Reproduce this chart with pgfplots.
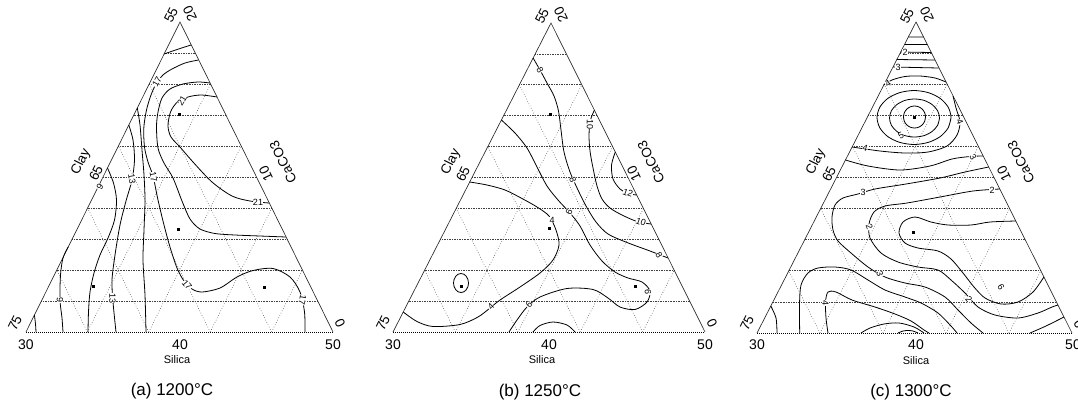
\documentclass[border=0pt]{standalone}
\usepackage{fontspec}
\setmainfont{Liberation Sans}
\usepackage{pgfplots}
\pgfplotsset{compat=1.18}
\tikzset{
 grd/.style={black!70, dotted, line width=0.6pt},
 hgrd/.style={black!75, densely dotted, line width=0.65pt},
 edg/.style={black!85, line width=0.65pt},
 bedg/.style={black, densely dotted, line width=1pt},
 cnt/.style={black, line width=0.8pt, smooth},
 lab/.style={fill=white, inner sep=0.2pt, font=\fontsize{9}{9}\selectfont},
 tk/.style={font=\fontsize{14}{14}\selectfont},
 sd/.style={font=\fontsize{13.5}{14}\selectfont},
 sl/.style={font=\fontsize{11}{11}\selectfont},
 ttl/.style={font=\fontsize{17}{18}\selectfont},
 dot/.style={only marks, mark=square*, mark size=1pt, black},
}
\begin{document}
\begin{tikzpicture}
\begin{axis}[
  scale only axis, width=1078pt, height=403pt,
  xmin=0, xmax=1078, ymin=0, ymax=403, y dir=reverse,
  hide axis, clip=false, unbounded coords=jump,
]
\addplot[draw=none] coordinates {(0,0) (1078,403)};
% ================= PANEL A =================
\addplot[hgrd] coordinates {(41.4,301)(317.7,301) (nan,nan) (56.8,270)(302.4,270) (nan,nan) (72.2,239)(287.1,239) (nan,nan) (87.6,208)(271.8,208) (nan,nan) (103,177)(256.5,177) (nan,nan) (118.4,146)(241.2,146) (nan,nan) (133.8,115)(225.9,115) (nan,nan) (149.2,84)(210.6,84) (nan,nan) (164.6,53)(195.3,53)};
\addplot[grd] coordinates {(87.4,332)(210.6,84) (nan,nan) (148.8,332)(241.2,146) (nan,nan) (210.2,332)(271.8,208) (nan,nan) (271.6,332)(302.4,270) (nan,nan) (87.4,332)(56.8,270) (nan,nan) (148.8,332)(87.6,208) (nan,nan) (210.2,332)(118.4,146) (nan,nan) (271.6,332)(149.2,84)};
\addplot[edg] coordinates {(26,332) (180,22) (333,332)};
\addplot[bedg] coordinates {(26,332) (333,332)};
% contours
\addplot[cnt] coordinates {(164.1,54) (177,49.5) (191,45)};
\addplot[cnt] coordinates {(198.5,60) (185,63) (172,69) (163,75) (156,84) (151,95) (146.5,110) (143.8,128) (144.5,147) (148,162) (153,176) (158,200) (164,225) (170,247) (177,268) (184,281) (192,289) (202,292) (220,288) (237,277) (253,270.5) (273,268.5) (290,277) (300,292) (304.5,312) (305,332)};
\addplot[cnt] coordinates {(210,83) (198,82) (183,84) (170,89) (162,98) (158,112) (156.5,127) (158,148) (164,163) (173,178) (182,201) (190,219) (200,229) (215,233.5) (235,235) (260,236) (286,237)};
\addplot[cnt] coordinates {(217,97) (201,95) (188,97) (177,102.5) (170.5,112) (168,126) (171,137) (180,147) (193,162) (212,182) (232,196) (250,201) (269,203)};
\addplot[cnt] coordinates {(137.3,108) (140,125) (142,150) (144,175) (145,200) (144,230) (143,260) (145,295) (146,332)};
\addplot[cnt] coordinates {(128.8,125) (133,140) (134.5,160) (132,180) (126,201) (120,225) (115,255) (112,280) (113,302) (116,332)};
\addplot[cnt] coordinates {(107.5,168) (113.5,183) (116.5,200) (114.5,220) (108,238) (100,255) (94,273) (90,292) (88.5,312) (88,332)};
\addplot[cnt] coordinates {(68.2,247) (63,258) (60.5,275) (60,300) (62,318) (63,332)};
\addplot[cnt] coordinates {(34.4,315) (35.5,324) (36,332)};
\addplot[dot] coordinates {(179.3,114.3) (178.3,229.3) (92.7,286) (264.3,287.3)};
\node[lab, rotate=60] at (axis cs:157,82) {17};
\node[lab, rotate=60] at (axis cs:182,101) {21};
\node[lab, rotate=-80] at (axis cs:132,179) {13};
\node[lab, rotate=-80] at (axis cs:153.5,177) {17};
\node[lab] at (axis cs:258,202) {21};
\node[lab, rotate=60] at (axis cs:100,187) {9};
\node[lab, rotate=-90] at (axis cs:60,300) {9};
\node[lab, rotate=-90] at (axis cs:112.5,298) {13};
\node[lab, rotate=-50] at (axis cs:187,285) {17};
\node[lab, rotate=-100] at (axis cs:302.5,300) {17};
\node[tk] at (axis cs:26,345) {30};
\node[tk] at (axis cs:180,345) {40};
\node[tk] at (axis cs:333,345) {50};
\node[sl] at (axis cs:177,360) {Silica};
\node[ttl] at (axis cs:172,391) {(a) 1200°C};
\node[sd, rotate=63.6] at (axis cs:15,323) {75};
\node[sd, rotate=116] at (axis cs:340,323) {0};
\node[sd, rotate=63.6] at (axis cs:171,15) {55};
\node[sd, rotate=116] at (axis cs:190,14) {20};
\node[sd, rotate=63.6] at (axis cs:81,162) {Clay};
\node[sd, rotate=63.6] at (axis cs:96,173) {65};
\node[sd, rotate=116] at (axis cs:266,174) {10};
\node[sd, rotate=116] at (axis cs:283,162) {CaCO3};
% ================= PANEL B =================
\addplot[hgrd] coordinates {(408.8,301.1)(689.6,301.1) (nan,nan) (424.6,270.2)(674.2,270.2) (nan,nan) (440.4,239.3)(658.8,239.3) (nan,nan) (456.2,208.4)(643.4,208.4) (nan,nan) (472,177.5)(628,177.5) (nan,nan) (487.8,146.6)(612.6,146.6) (nan,nan) (503.6,115.7)(597.2,115.7) (nan,nan) (519.4,84.8)(581.8,84.8) (nan,nan) (535.2,53.9)(566.4,53.9)};
\addplot[grd] coordinates {(455.4,332)(581.8,84.8) (nan,nan) (517.8,332)(612.6,146.6) (nan,nan) (580.2,332)(643.4,208.4) (nan,nan) (642.6,332)(674.2,270.2) (nan,nan) (455.4,332)(424.6,270.2) (nan,nan) (517.8,332)(456.2,208.4) (nan,nan) (580.2,332)(487.8,146.6) (nan,nan) (642.6,332)(519.4,84.8)};
\addplot[edg] coordinates {(393,332) (551,23) (705,332)};
\addplot[bedg] coordinates {(393,332) (705,332)};
\addplot[cnt] coordinates {(533.1,58) (540,70) (547,83) (554,96) (558.5,111) (561,130) (564,152) (570,172) (578,190) (586,206) (596,222) (608,234) (627,242.5) (650,251) (668,258)};
\addplot[cnt] coordinates {(594.5,110) (590.5,120) (589,135) (590,151) (593,168) (597,186) (602,199) (610,208) (622,215) (637,221.5) (651,224)};
\addplot[cnt] coordinates {(615.3,152) (611.5,165) (613,179) (620,189) (628,193.5) (636.7,195)};
\addplot[cnt] coordinates {(501.4,120) (515,133) (527,148) (537,167) (547,186) (558,200) (570,213) (580,226) (590,245) (602,261) (615,272) (628,278) (642,282) (650,291) (647,302) (635,309.5) (620,307) (608,298) (593,289.5) (567,288.5) (540,297) (527,307) (517,320) (509,332)};
\addplot[cnt] coordinates {(469.7,182) (487,185) (505,190) (522,198.5) (537,207) (549,216) (556,230) (559,245) (553,260) (540,273) (520,287) (500,300) (490,308) (478,317) (460,324.5) (433,326.5) (417,321.5) (403.2,312)};
\addplot[cnt] coordinates {(468.5,283) (467.9,286.6) (466.3,289.7) (463.9,291.8) (461,292.5) (458.1,291.8) (455.7,289.7) (454.1,286.6) (453.5,283) (454.1,279.4) (455.7,276.3) (458.1,274.2) (461,273.5) (463.9,274.2) (466.3,276.3) (467.9,279.4) (468.5,283) (467.9,286.6)};
\addplot[cnt] coordinates {(533,332) (540,325.5) (553,322) (567,325) (575,332)};
\addplot[dot] coordinates {(550,114) (549.5,228) (461.5,286) (635,286)};
\node[lab, rotate=-60] at (axis cs:540,70) {8};
\node[lab, rotate=-70] at (axis cs:573,180) {8};
\node[lab, rotate=-90] at (axis cs:590,124) {10};
\node[lab, rotate=-20] at (axis cs:628,193) {12};
\node[lab, rotate=-20] at (axis cs:641,222) {10};
\node[lab, rotate=-60] at (axis cs:659,255) {8};
\node[lab, rotate=70] at (axis cs:569,212) {6};
\node[lab] at (axis cs:552,220) {4};
\node[lab, rotate=-90] at (axis cs:648,292) {6};
\node[lab, rotate=45] at (axis cs:529,305) {6};
\node[lab, rotate=45] at (axis cs:491,307) {4};
\node[tk] at (axis cs:393,345) {30};
\node[tk] at (axis cs:549,345) {40};
\node[tk] at (axis cs:705,345) {50};
\node[sl] at (axis cs:542,360) {Silica};
\node[ttl] at (axis cs:540,392) {(b) 1250°C};
\node[sd, rotate=63.6] at (axis cs:383,323) {75};
\node[sd, rotate=116] at (axis cs:712,323) {0};
\node[sd, rotate=63.6] at (axis cs:542,16) {55};
\node[sd, rotate=116] at (axis cs:561,15) {20};
\node[sd, rotate=63.6] at (axis cs:451,162) {Clay};
\node[sd, rotate=63.6] at (axis cs:463,174) {65};
\node[sd, rotate=116] at (axis cs:634,174) {10};
\node[sd, rotate=116] at (axis cs:651,162) {CaCO3};
% ================= PANEL C =================
\addplot[hgrd] coordinates {(772.9,301.9)(1056.4,301.9) (nan,nan) (788.8,270.8)(1040.8,270.8) (nan,nan) (804.7,239.7)(1025.2,239.7) (nan,nan) (820.6,208.6)(1009.6,208.6) (nan,nan) (836.5,177.5)(994,177.5) (nan,nan) (852.4,146.4)(978.4,146.4) (nan,nan) (868.3,115.3)(962.8,115.3) (nan,nan) (884.2,84.2)(947.2,84.2) (nan,nan) (900.1,53.1)(931.6,53.1)};
\addplot[grd] coordinates {(820,333)(947.2,84.2) (nan,nan) (883,333)(978.4,146.4) (nan,nan) (946,333)(1009.6,208.6) (nan,nan) (1009,333)(1040.8,270.8) (nan,nan) (820,333)(788.8,270.8) (nan,nan) (883,333)(820.6,208.6) (nan,nan) (946,333)(852.4,146.4) (nan,nan) (1009,333)(884.2,84.2)};
\addplot[edg] coordinates {(757,333) (916,22) (1072,333)};
\addplot[bedg] coordinates {(757,333) (1072,333)};
% apex lines
\addplot[cnt] coordinates {(908.3,37) (923.5,37) (nan,nan) (904.5,44.5) (927.3,44.5) (nan,nan) (900.7,52) (931,52.5) (nan,nan) (896.8,59.5) (934.8,60) (nan,nan) (893,67) (938.6,68)};
% rings
\addplot[cnt] coordinates {(925.5,117) (924.7,121.2) (922.3,124.8) (918.7,127.2) (914.5,128) (910.3,127.2) (906.7,124.8) (904.3,121.2) (903.5,117) (904.3,112.8) (906.7,109.2) (910.3,106.8) (914.5,106) (918.7,106.8) (922.3,109.2) (924.7,112.8) (925.5,117) (924.7,121.2)};
\addplot[cnt] coordinates {(939.5,118) (937.6,125.3) (932.2,131.4) (924.1,135.6) (914.5,137) (904.9,135.6) (896.8,131.4) (891.4,125.3) (889.5,118) (891.4,110.7) (896.8,104.6) (904.9,100.4) (914.5,99) (924.1,100.4) (932.2,104.6) (937.6,110.7) (939.5,118) (937.6,125.3)};
\addplot[cnt] coordinates {(951,117.5) (948.2,127.8) (940.2,136.6) (928.2,142.4) (914,144.5) (899.8,142.4) (887.8,136.6) (879.8,127.8) (877,117.5) (879.8,107.2) (887.8,98.4) (899.8,92.6) (914,90.5) (928.2,92.6) (940.2,98.4) (948.2,107.2) (951,117.5) (948.2,127.8)};
% 4 contour
\addplot[cnt] coordinates {(883.8,85) (892,80) (905,76.5) (920,76) (935,78) (946,82)};
\addplot[cnt] coordinates {(953,96) (956,108) (960,122) (957,135) (947,146) (928,152) (905,153) (880,151) (852.1,147)};
% 3 lines
\addplot[cnt] coordinates {(845.5,160) (868,166) (900,170) (930,166) (952,159) (970,156.5) (983,156)};
\addplot[cnt] coordinates {(988.7,167) (965,172) (940,178) (906,184) (875,189) (858,194) (843,198) (835,205) (832,217) (833,230) (838,241) (851,253) (868,267) (885,277) (905,283) (925,287) (945,297) (958,310) (971,323) (983,333)};
% 2 line
\addplot[cnt] coordinates {(999.8,189) (973,191) (940,197) (907,203) (885,206) (874,212) (869,224) (870,238) (881,253) (898,262) (918,267) (938,270) (951,280) (965,293) (978,307) (995,315) (1018,318) (1038,313) (1052,307) (1058,305)};
% U
\addplot[cnt] coordinates {(1015.8,221) (990,222) (971,225) (948,225) (931,222) (915,217) (903,222) (899,233) (905,243) (918,248) (938,251) (951,259) (963,273) (974,287) (985,298) (1001,304) (1018,302) (1033,292) (1043.9,277)};
% domes
\addplot[cnt] coordinates {(799.7,333) (799.5,305) (801,285) (808,273) (818,268) (835,267) (851,270) (868,280) (885,290) (905,297) (921,303) (938,313) (951,326) (957,333)};
\addplot[cnt] coordinates {(828,333) (826,318) (825.5,302) (828,292) (836,292) (852,300) (875,307) (895,314) (911,321) (924,330) (929,333)};
\addplot[cnt] coordinates {(861,333) (870,328) (884,324) (899,323) (914,327) (924,333)};
\addplot[cnt] coordinates {(898,333) (903,331) (908,330.5) (913,331) (918,333)};
\addplot[cnt] coordinates {(777,333) (776,318) (770.8,306)};
\addplot[cnt] coordinates {(1030,333) (1046,326) (1064,317)};
\addplot[dot] coordinates {(914.5,117) (913,232)};
\node[lab] at (axis cs:905,52) {2};
\node[lab] at (axis cs:898,67.5) {3};
\node[lab, rotate=30] at (axis cs:888,84) {4};
\node[lab, rotate=30] at (axis cs:901,136) {5};
\node[lab, rotate=-70] at (axis cs:960,122) {4};
\node[lab, rotate=-15] at (axis cs:865,148) {4};
\node[lab, rotate=-60] at (axis cs:973,157) {3};
\node[lab] at (axis cs:863,192) {3};
\node[lab] at (axis cs:992,190) {2};
\node[lab, rotate=-70] at (axis cs:869.5,227) {2};
\node[lab, rotate=-70] at (axis cs:880,274) {3};
\node[lab, rotate=-50] at (axis cs:969,299) {2};
\node[lab, rotate=-90] at (axis cs:825.5,303) {4};
\node[lab, rotate=-60, fill=none] at (axis cs:1001,287) {6};
\node[tk] at (axis cs:757,345) {30};
\node[tk] at (axis cs:916,345) {40};
\node[tk, overlay] at (axis cs:1073,345) {50};
\node[sl] at (axis cs:916,361) {Silica};
\node[ttl] at (axis cs:911,392) {(c) 1300°C};
\node[sd, rotate=63.6] at (axis cs:747,323) {75};
\node[sd, rotate=116, overlay] at (axis cs:1079,324) {0};
\node[sd, rotate=63.6] at (axis cs:907,16) {55};
\node[sd, rotate=116] at (axis cs:927,15) {20};
\node[sd, rotate=63.6] at (axis cs:816,162) {Clay};
\node[sd, rotate=63.6] at (axis cs:829,174) {65};
\node[sd, rotate=116] at (axis cs:1004,174) {10};
\node[sd, rotate=116] at (axis cs:1021,162) {CaCO3};
\end{axis}
\end{tikzpicture}
\end{document}
